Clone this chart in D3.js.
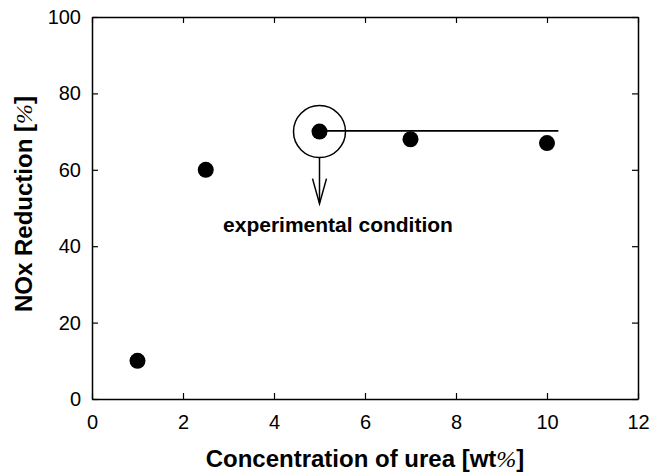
<!DOCTYPE html>
<html>
<head>
<meta charset="utf-8">
<script src="https://cdn.jsdelivr.net/npm/d3@7"></script>
<style>
  body { margin: 0; background: #fff; }
  text { font-family: Arial, "Liberation Sans", sans-serif; fill: #000; }
</style>
</head>
<body>
<div id="chart"></div>
<script>
// data
const urea = [1, 2.5, 5, 7, 10];
const noxReduction = [10, 60, 70, 68, 67];
const xTicks = [0, 2, 4, 6, 8, 10, 12];
const yTicks = [0, 20, 40, 60, 80, 100];
const refLine = [[5, 70.2], [10.25, 70.2]];
const chosen = [5, 70];

const width = 665, height = 474;
const m = { left: 92, right: 27, top: 17, bottom: 75 };

const svg = d3.select("#chart")
    .append("svg")
    .attr("width", width)
    .attr("height", height);

const x = d3.scaleLinear().domain([0, 12]).range([m.left, width - m.right]);
const y = d3.scaleLinear().domain([0, 100]).range([height - m.bottom, m.top]);

// axes, ticks pointing inward
const fontSize = "20px";
svg.append("g")
    .attr("transform", `translate(0,${y(0)})`)
    .call(d3.axisBottom(x).tickValues(xTicks).tickSizeInner(-6).tickSizeOuter(0).tickPadding(16))
    .call(g => g.selectAll("text").attr("font-size", fontSize).attr("font-family", "Arial, 'Liberation Sans', sans-serif"));

svg.append("g")
    .attr("transform", `translate(${x(0)},0)`)
    .call(d3.axisLeft(y).tickValues(yTicks).tickSizeInner(-6).tickSizeOuter(0).tickPadding(11))
    .call(g => g.selectAll("text").attr("font-size", fontSize).attr("font-family", "Arial, 'Liberation Sans', sans-serif"));

svg.append("g")
    .attr("transform", `translate(0,${y(100)})`)
    .call(d3.axisTop(x).tickValues(xTicks).tickSizeInner(-6).tickSizeOuter(0).tickFormat(""));

svg.append("g")
    .attr("transform", `translate(${x(12)},0)`)
    .call(d3.axisRight(y).tickValues(yTicks).tickSizeInner(-6).tickSizeOuter(0).tickFormat(""));

svg.selectAll(".domain").attr("stroke", "#000").attr("stroke-width", 1.5);
svg.selectAll(".tick line").attr("stroke", "#000").attr("stroke-width", 1.2);

// reference line
svg.append("path")
    .datum(refLine)
    .attr("fill", "none")
    .attr("stroke", "#000")
    .attr("stroke-width", 1.8)
    .attr("d", d3.line().x(d => x(d[0])).y(d => y(d[1])));

// points
svg.selectAll(".pt")
    .data(urea)
    .enter().append("circle")
    .attr("class", "pt")
    .attr("cx", d => x(d))
    .attr("cy", (d, i) => y(noxReduction[i]))
    .attr("r", 8)
    .attr("fill", "#000");

// marker for the experimental condition
const cx = x(chosen[0]), cy = y(chosen[1]);
svg.append("circle")
    .attr("cx", cx)
    .attr("cy", cy)
    .attr("r", 26)
    .attr("fill", "none")
    .attr("stroke", "#000")
    .attr("stroke-width", 1.5);

svg.append("line")
    .attr("x1", cx).attr("y1", cy + 26)
    .attr("x2", cx).attr("y2", cy + 71)
    .attr("stroke", "#000").attr("stroke-width", 1.5);

svg.append("path")
    .attr("d", `M${cx - 7},${cy + 47} L${cx},${cy + 72} L${cx + 7},${cy + 47}`)
    .attr("fill", "none")
    .attr("stroke", "#000")
    .attr("stroke-width", 1.5);

svg.append("text")
    .attr("x", 338)
    .attr("y", 232)
    .attr("text-anchor", "middle")
    .attr("font-size", "21px")
    .attr("font-weight", "bold")
    .text("experimental condition");

// axis titles
const xt = svg.append("text")
    .attr("x", (x(0) + x(12)) / 2)
    .attr("y", 467)
    .attr("text-anchor", "middle")
    .attr("font-size", "24px")
    .attr("font-weight", "bold");
xt.append("tspan").text("Concentration of urea [wt");
xt.append("tspan").attr("font-family", "'Liberation Serif', serif").attr("font-weight", "normal").attr("font-style", "italic").text("%");
xt.append("tspan").text("]");

const yt = svg.append("text")
    .attr("transform", `translate(32,204) rotate(-90)`)
    .attr("text-anchor", "middle")
    .attr("font-size", "24px")
    .attr("font-weight", "bold");
yt.append("tspan").text("NOx Reduction [");
yt.append("tspan").attr("font-family", "'Liberation Serif', serif").attr("font-weight", "normal").attr("font-style", "italic").text("%");
yt.append("tspan").text("]");
</script>
</body>
</html>
